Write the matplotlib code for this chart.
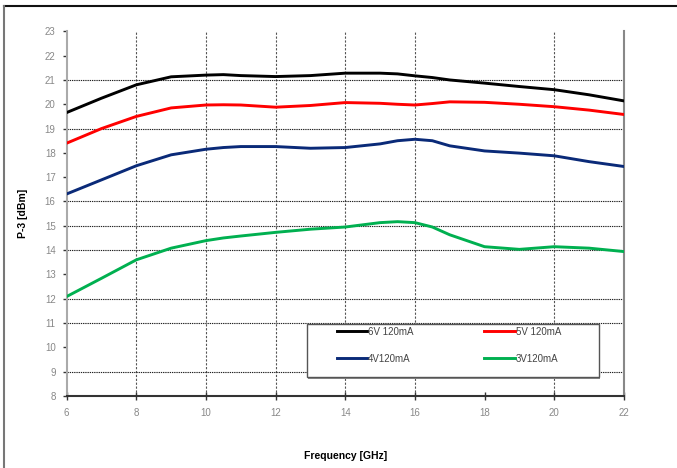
import numpy as np
import matplotlib
matplotlib.use("Agg")
import matplotlib.pyplot as plt
from matplotlib.lines import Line2D
from matplotlib.patches import Rectangle

plt.rcParams['font.family'] = ['Liberation Sans', 'DejaVu Sans']

# frequency points (GHz)
freq = [6, 7, 8, 9, 10, 10.5, 11, 12, 13, 14, 15, 15.5, 16, 16.5, 17, 18, 19, 20, 21, 22]

p_6v = [19.66, 20.25, 20.8, 21.13, 21.2, 21.22, 21.18, 21.14, 21.18, 21.28, 21.28, 21.25, 21.17, 21.1, 21.0, 20.87, 20.73, 20.6, 20.39, 20.14]
p_5v = [18.4, 19.0, 19.5, 19.85, 19.97, 19.98, 19.97, 19.88, 19.95, 20.07, 20.04, 20.0, 19.97, 20.03, 20.1, 20.08, 20.0, 19.9, 19.76, 19.58]
p_4v = [16.31, 16.89, 17.47, 17.92, 18.15, 18.22, 18.26, 18.26, 18.19, 18.22, 18.37, 18.5, 18.56, 18.5, 18.29, 18.08, 17.99, 17.88, 17.64, 17.44]
p_3v = [12.09, 12.84, 13.6, 14.08, 14.39, 14.5, 14.58, 14.73, 14.86, 14.95, 15.13, 15.17, 15.13, 14.95, 14.63, 14.14, 14.03, 14.14, 14.08, 13.94]

labels = ["6V 120mA", "5V 120mA", "4V120mA", "3V120mA"]
colors = ["#000000", "#ff0000", "#0a2a78", "#00b050"]

xticks = [6, 8, 10, 12, 14, 16, 18, 20, 22]
yticks = list(range(8, 24))
# grid lines that show in the picture
xgrid = [8, 10, 12, 14, 16, 20]
ygrid = [9, 11, 12, 14, 15, 16, 19, 21]

fig = plt.figure(figsize=(6.77, 4.68), dpi=100)
ax = fig.add_axes([0.0985, 0.154, 0.823, 0.779])

for xg in xgrid:
    ax.axvline(xg, color="#555555", lw=0.8, ls=(0, (2, 1.5)), zorder=1)
for yg in ygrid:
    ax.axhline(yg, color="#222222", lw=0.8, ls=(0, (1.2, 0.8)), zorder=1)

lines = []
for vals, name, col in zip([p_6v, p_5v, p_4v, p_3v], labels, colors):
    l, = ax.plot(freq, vals, color=col, lw=2.1, solid_joinstyle="round", label=name, zorder=3)
    lines.append(l)

ax.set_xlim(6, 22)
ax.set_ylim(8, 23)
ax.set_xticks(xticks)
ax.set_yticks(yticks)
ax.tick_params(axis="y", direction="out", length=3, width=1, color="#333333",
               labelsize=7, labelcolor="#888888", pad=5)
ax.tick_params(axis="x", direction="inout", length=6, width=1, color="#333333",
               labelsize=7, labelcolor="#888888", pad=6)

ax.spines["top"].set_visible(False)
ax.spines["left"].set_color("#aaaaaa")
ax.spines["left"].set_linewidth(1.5)
ax.spines["right"].set_color("#888888")
ax.spines["right"].set_linewidth(1.5)
ax.spines["bottom"].set_color("#333333")
ax.spines["bottom"].set_linewidth(1.5)

ax.set_ylabel("P-3 [dBm]", fontsize=7.5, fontweight="bold")
ax.yaxis.set_label_coords(-0.07, 0.5)
ax.set_xlabel("Frequency [GHz]", fontsize=7.5, fontweight="bold")
ax.xaxis.set_label_coords(0.5, -0.15)

# legend box with a small shadow
ax.add_patch(Rectangle((0.434, 0.047), 0.524, 0.146, transform=ax.transAxes,
                       facecolor="#8a8a8a", edgecolor="none", zorder=4))
ax.add_patch(Rectangle((0.431, 0.052), 0.524, 0.146, transform=ax.transAxes,
                       facecolor="white", edgecolor="#555555", lw=1.0, zorder=4))

leg = ax.legend(handles=[lines[0], lines[2], lines[1], lines[3]], ncol=2,
                loc="upper left", bbox_to_anchor=(0.485, 0.19),
                fontsize=7, frameon=False, handlelength=3.1, handletextpad=0.1,
                borderpad=0, borderaxespad=0, labelspacing=1.75, columnspacing=7.3)
for t in leg.get_texts():
    t.set_color("#444444")
leg.set_zorder(5)

# outer frame of the chart area
fig.add_artist(Line2D([0.006, 1.0], [0.987, 0.987], transform=fig.transFigure, color="#111111", lw=1.5))
fig.add_artist(Line2D([0.006, 0.006], [0.0, 0.987], transform=fig.transFigure, color="#777777", lw=1.5))

fig.savefig("out.png", dpi=100)
